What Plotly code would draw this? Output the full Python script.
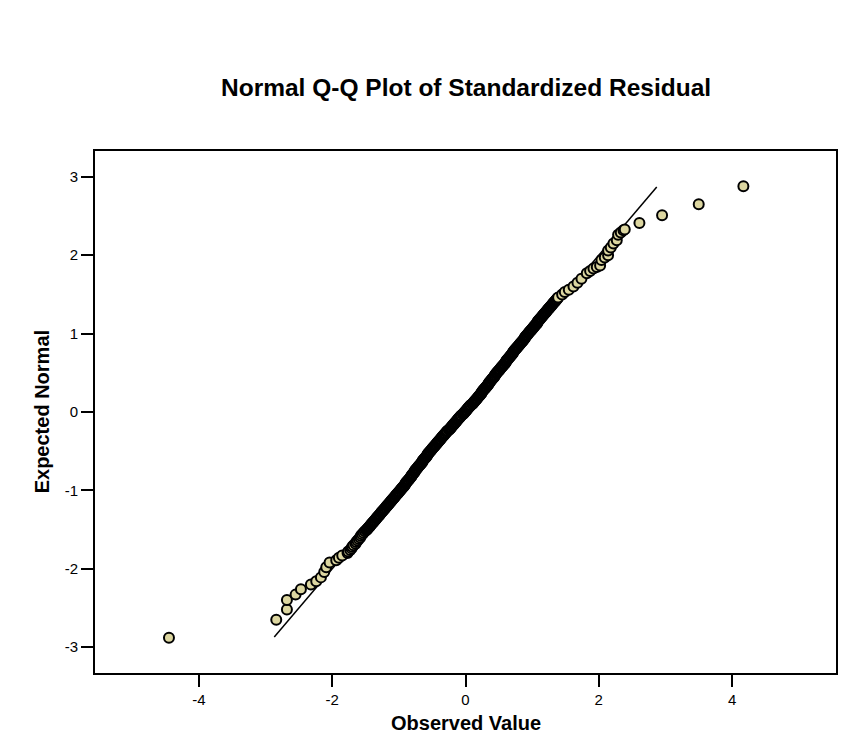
import plotly.graph_objects as go

lower_x = [-4.45, -2.84, -2.68, -2.68, -2.55, -2.47, -2.32, -2.24, -2.17, -2.12, -2.09, -2.04, -1.94, -1.90, -1.85]
lower_y = [-2.88, -2.65, -2.52, -2.40, -2.33, -2.26, -2.20, -2.16, -2.11, -2.04, -1.98, -1.92, -1.89, -1.86, -1.83]

band_lo_x = [-1.77, -1.76, -1.73, -1.71, -1.70, -1.68, -1.65, -1.64, -1.62, -1.60,
             -1.58, -1.57, -1.55, -1.53, -1.51,
             -1.49, -1.48, -1.47, -1.46, -1.45, -1.44, -1.43, -1.42, -1.41, -1.40,
             -1.39, -1.38, -1.37, -1.36, -1.35, -1.34, -1.33, -1.32, -1.31, -1.30,
             -1.29, -1.28, -1.27, -1.26, -1.25, -1.24, -1.23, -1.22, -1.21, -1.20, -1.19]
band_lo_y = [-1.80, -1.78, -1.76, -1.74, -1.72, -1.70, -1.68, -1.66, -1.64, -1.62,
             -1.60, -1.58, -1.56, -1.54, -1.52,
             -1.51, -1.50, -1.49, -1.48, -1.47, -1.46, -1.45, -1.44, -1.43, -1.42,
             -1.41, -1.40, -1.39, -1.38, -1.37, -1.36, -1.35, -1.34, -1.33, -1.32,
             -1.31, -1.30, -1.29, -1.28, -1.27, -1.26, -1.25, -1.24, -1.23, -1.22, -1.21]

band_mid_x = [
    -1.18, -1.17, -1.16, -1.15, -1.14, -1.13, -1.12, -1.11, -1.10, -1.09,
    -1.08, -1.07, -1.06, -1.05, -1.04, -1.03, -1.02, -1.01, -1.00, -0.99,
    -0.98, -0.97, -0.96, -0.95, -0.94, -0.93, -0.92, -0.91, -0.90, -0.90,
    -0.89, -0.88, -0.87, -0.86, -0.85, -0.84, -0.83, -0.82, -0.81, -0.81,
    -0.80, -0.79, -0.78, -0.77, -0.76, -0.76, -0.75, -0.74, -0.73, -0.72,
    -0.71, -0.70, -0.69, -0.68, -0.67, -0.66, -0.65, -0.65, -0.64, -0.63,
    -0.62, -0.61, -0.60, -0.59, -0.58, -0.57, -0.57, -0.56, -0.55, -0.54,
    -0.53, -0.52, -0.51, -0.50, -0.49, -0.48, -0.47, -0.46, -0.45, -0.44,
    -0.43, -0.42, -0.41, -0.40, -0.39, -0.38, -0.37, -0.36, -0.35, -0.34,
    -0.33, -0.32, -0.31, -0.30, -0.29, -0.28, -0.27, -0.25, -0.24, -0.23,
    -0.22, -0.21, -0.20, -0.19, -0.18, -0.17, -0.16, -0.15, -0.14, -0.13,
    -0.12, -0.11, -0.10, -0.09, -0.08, -0.07, -0.06, -0.04, -0.03, -0.02,
    -0.01, 0.00, 0.01, 0.02, 0.03, 0.04, 0.05, 0.06, 0.07, 0.08,
    0.10, 0.11, 0.12, 0.13, 0.14, 0.15, 0.16, 0.17, 0.18, 0.19,
    0.20, 0.21, 0.22, 0.23, 0.24, 0.24, 0.25, 0.26, 0.27, 0.28,
    0.29, 0.30, 0.31, 0.32, 0.33, 0.34, 0.35, 0.35, 0.36, 0.37,
    0.38, 0.39, 0.40, 0.41, 0.42, 0.43, 0.44, 0.44, 0.45, 0.46,
    0.47, 0.48, 0.49, 0.50, 0.51, 0.52, 0.53, 0.54, 0.55, 0.56,
    0.57, 0.58, 0.59, 0.60, 0.61, 0.61, 0.62, 0.63, 0.64, 0.65,
    0.66, 0.67, 0.68, 0.69, 0.70, 0.71, 0.71, 0.72, 0.73, 0.74,
    0.75, 0.76, 0.77, 0.78, 0.79, 0.80, 0.81, 0.82, 0.83, 0.84,
    0.85, 0.86, 0.87, 0.88, 0.89, 0.89, 0.90, 0.91, 0.92, 0.93,
    0.94, 0.95, 0.96, 0.97, 0.98, 0.99, 1.00, 1.01, 1.02, 1.03,
    1.04, 1.05, 1.06, 1.07, 1.08, 1.08, 1.09, 1.10, 1.11, 1.12,
    1.13]
band_mid_y = [
    -1.20, -1.19, -1.18, -1.17, -1.16, -1.15, -1.14, -1.13, -1.12, -1.11,
    -1.10, -1.09, -1.08, -1.07, -1.06, -1.05, -1.04, -1.03, -1.02, -1.01,
    -1.00, -0.99, -0.98, -0.97, -0.96, -0.95, -0.94, -0.93, -0.92, -0.91,
    -0.90, -0.89, -0.88, -0.87, -0.86, -0.85, -0.84, -0.83, -0.82, -0.81,
    -0.80, -0.79, -0.78, -0.77, -0.76, -0.75, -0.74, -0.73, -0.72, -0.71,
    -0.70, -0.69, -0.68, -0.67, -0.66, -0.65, -0.64, -0.63, -0.62, -0.61,
    -0.60, -0.59, -0.58, -0.57, -0.56, -0.55, -0.54, -0.53, -0.52, -0.51,
    -0.50, -0.49, -0.48, -0.47, -0.46, -0.45, -0.44, -0.43, -0.42, -0.41,
    -0.40, -0.39, -0.38, -0.37, -0.36, -0.35, -0.34, -0.33, -0.32, -0.31,
    -0.30, -0.29, -0.28, -0.27, -0.26, -0.25, -0.24, -0.23, -0.22, -0.21,
    -0.20, -0.19, -0.18, -0.17, -0.16, -0.15, -0.14, -0.13, -0.12, -0.11,
    -0.10, -0.09, -0.08, -0.07, -0.06, -0.05, -0.04, -0.03, -0.02, -0.01,
    0.00, 0.01, 0.02, 0.03, 0.04, 0.05, 0.06, 0.07, 0.08, 0.09,
    0.10, 0.11, 0.12, 0.13, 0.14, 0.15, 0.16, 0.17, 0.18, 0.19,
    0.20, 0.21, 0.22, 0.23, 0.24, 0.25, 0.26, 0.27, 0.28, 0.29,
    0.30, 0.31, 0.32, 0.33, 0.34, 0.35, 0.36, 0.37, 0.38, 0.39,
    0.40, 0.41, 0.42, 0.43, 0.44, 0.45, 0.46, 0.47, 0.48, 0.49,
    0.50, 0.51, 0.52, 0.53, 0.54, 0.55, 0.56, 0.57, 0.58, 0.59,
    0.60, 0.61, 0.62, 0.63, 0.64, 0.65, 0.66, 0.67, 0.68, 0.69,
    0.70, 0.71, 0.72, 0.73, 0.74, 0.75, 0.76, 0.77, 0.78, 0.79,
    0.80, 0.81, 0.82, 0.83, 0.84, 0.85, 0.86, 0.87, 0.88, 0.89,
    0.90, 0.91, 0.92, 0.93, 0.94, 0.95, 0.96, 0.97, 0.98, 0.99,
    1.00, 1.01, 1.02, 1.03, 1.04, 1.05, 1.06, 1.07, 1.08, 1.09,
    1.10, 1.11, 1.12, 1.13, 1.14, 1.15, 1.16, 1.17, 1.18, 1.19,
    1.20]

band_hi_x = [1.14, 1.15, 1.16, 1.17, 1.18, 1.19, 1.20, 1.21, 1.22, 1.23,
             1.24, 1.25, 1.26, 1.27, 1.28, 1.29, 1.30, 1.31, 1.32, 1.33,
             1.34, 1.35, 1.36, 1.37, 1.38, 1.39]
band_hi_y = [1.21, 1.22, 1.23, 1.24, 1.25, 1.26, 1.27, 1.28, 1.29, 1.30,
             1.31, 1.32, 1.33, 1.34, 1.35, 1.36, 1.37, 1.38, 1.39, 1.40,
             1.41, 1.42, 1.43, 1.44, 1.45, 1.46]

upper_x = [1.45, 1.49, 1.55, 1.62, 1.68, 1.74, 1.82, 1.87, 1.92, 1.97, 2.02, 2.04, 2.09, 2.14, 2.14, 2.18, 2.22, 2.27, 2.29, 2.33, 2.37, 2.39, 2.61, 2.95, 3.50, 4.17]
upper_y = [1.50, 1.53, 1.56, 1.60, 1.65, 1.70, 1.77, 1.80, 1.83, 1.85, 1.87, 1.94, 1.97, 2.00, 2.06, 2.10, 2.15, 2.19, 2.26, 2.29, 2.32, 2.33, 2.41, 2.51, 2.65, 2.88]

ref_line_x = [-2.87, 2.87]
ref_line_y = [-2.87, 2.87]

x_ticks = [-4, -2, 0, 2, 4]
y_ticks = [-3, -2, -1, 0, 1, 2, 3]

obs_x = lower_x + band_lo_x + band_mid_x + band_hi_x + upper_x
exp_y = lower_y + band_lo_y + band_mid_y + band_hi_y + upper_y

FONT = "Liberation Sans, Arial, sans-serif"

fig = go.Figure()
fig.add_trace(go.Scatter(x=ref_line_x, y=ref_line_y, mode="lines",
                         line=dict(color="black", width=1.5), showlegend=False, hoverinfo="skip"))
fig.add_trace(go.Scatter(x=obs_x, y=exp_y, mode="markers",
                         marker=dict(size=10, color="#dcd6a0", line=dict(color="black", width=2)),
                         showlegend=False))

axis_common = dict(showgrid=False, zeroline=False, showline=True, linecolor="black", linewidth=2,
                   mirror=True, ticks="outside", ticklen=12, tickwidth=2, tickcolor="black",
                   tickfont=dict(size=15, family=FONT, color="black"))

fig.update_layout(
    width=844, height=743,
    margin=dict(l=95, r=6, t=151, b=70),
    paper_bgcolor="white", plot_bgcolor="white",
    font=dict(family=FONT, color="black"),
    xaxis=dict(range=[-5.56, 5.56], tickvals=x_ticks, ticktext=[str(v) for v in x_ticks], **axis_common),
    yaxis=dict(range=[-3.33, 3.33], tickvals=y_ticks, ticktext=[str(v) for v in y_ticks], **axis_common),
    annotations=[
        dict(text="<b>Normal Q-Q Plot of Standardized Residual</b>", xref="paper", yref="paper",
             x=0.5, y=1.1208, xanchor="center", yanchor="middle", showarrow=False,
             font=dict(size=24.5, family=FONT, color="black")),
        dict(text="<b>Observed Value</b>", xref="paper", yref="paper",
             x=0.5, y=-0.0964, xanchor="center", yanchor="middle", showarrow=False,
             font=dict(size=20, family=FONT, color="black")),
        dict(text="<b>Expected Normal</b>", xref="paper", yref="paper",
             x=-0.0713, y=0.4997, xanchor="center", yanchor="middle", showarrow=False,
             textangle=-90, font=dict(size=20, family=FONT, color="black")),
    ],
)

fig.write_html("out.html")
